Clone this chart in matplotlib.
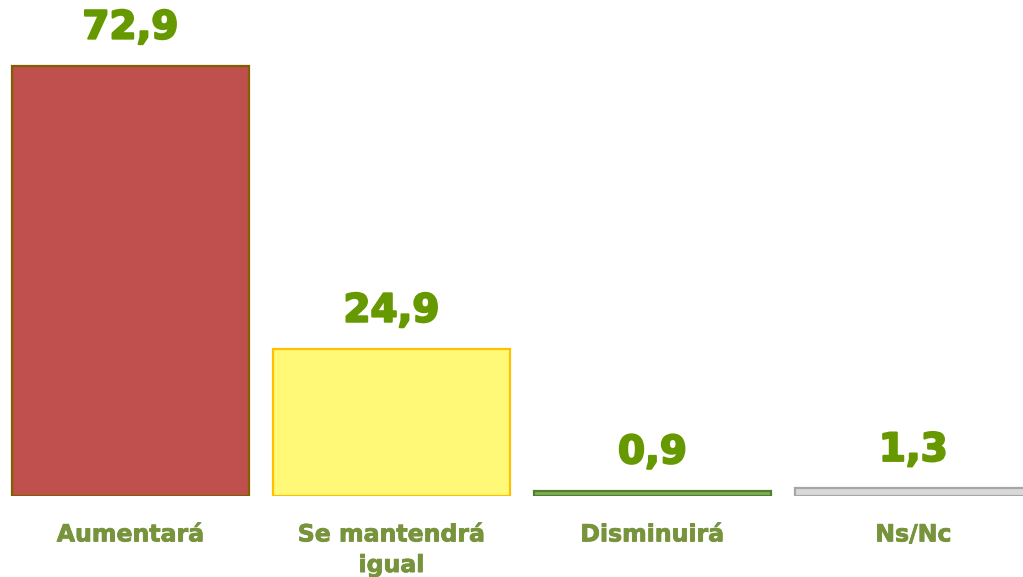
import matplotlib
matplotlib.use("Agg")
import matplotlib.pyplot as plt
import matplotlib.patheffects as pe

categories = ["Aumentará", "Se mantendrá\nigual", "Disminuirá", "Ns/Nc"]
values = [72.9, 24.9, 0.9, 1.3]
labels = ["72,9", "24,9", "0,9", "1,3"]
fill_colors = ["#C0504D", "#FFF977", "#7EAF55", "#D9D9D9"]
edge_colors = ["#7F6000", "#FFC000", "#4F7F2F", "#A6A6A6"]

fig = plt.figure(figsize=(10.23, 5.77), dpi=100)
ax = fig.add_axes([0, 81/577, 1, 496/577])
x = list(range(len(values)))
bars = ax.bar(x, values, width=0.905, color=fill_colors, edgecolor=edge_colors, linewidth=1.6)
ax.set_xlim(-0.5, 3.42)
ax.set_ylim(0, 84.1)
for xi, v, lab in zip(x, values, labels):
    ax.annotate(lab, (xi, v), xytext=(0, 14), textcoords="offset points",
                ha="center", va="bottom", fontsize=28, fontweight="bold",
                color="#669900", family="DejaVu Sans",
                path_effects=[pe.withStroke(linewidth=1.5, foreground="#669900")])
for xi, c in zip(x, categories):
    ax.annotate(c, (xi, 0), xytext=(0, -19), textcoords="offset points",
                ha="center", va="top", fontsize=17, fontweight="bold",
                color="#77933C", family="DejaVu Sans", linespacing=1.35,
                path_effects=[pe.withStroke(linewidth=0.6, foreground="#77933C")])
ax.axis("off")
fig.savefig("out.png", dpi=100)
